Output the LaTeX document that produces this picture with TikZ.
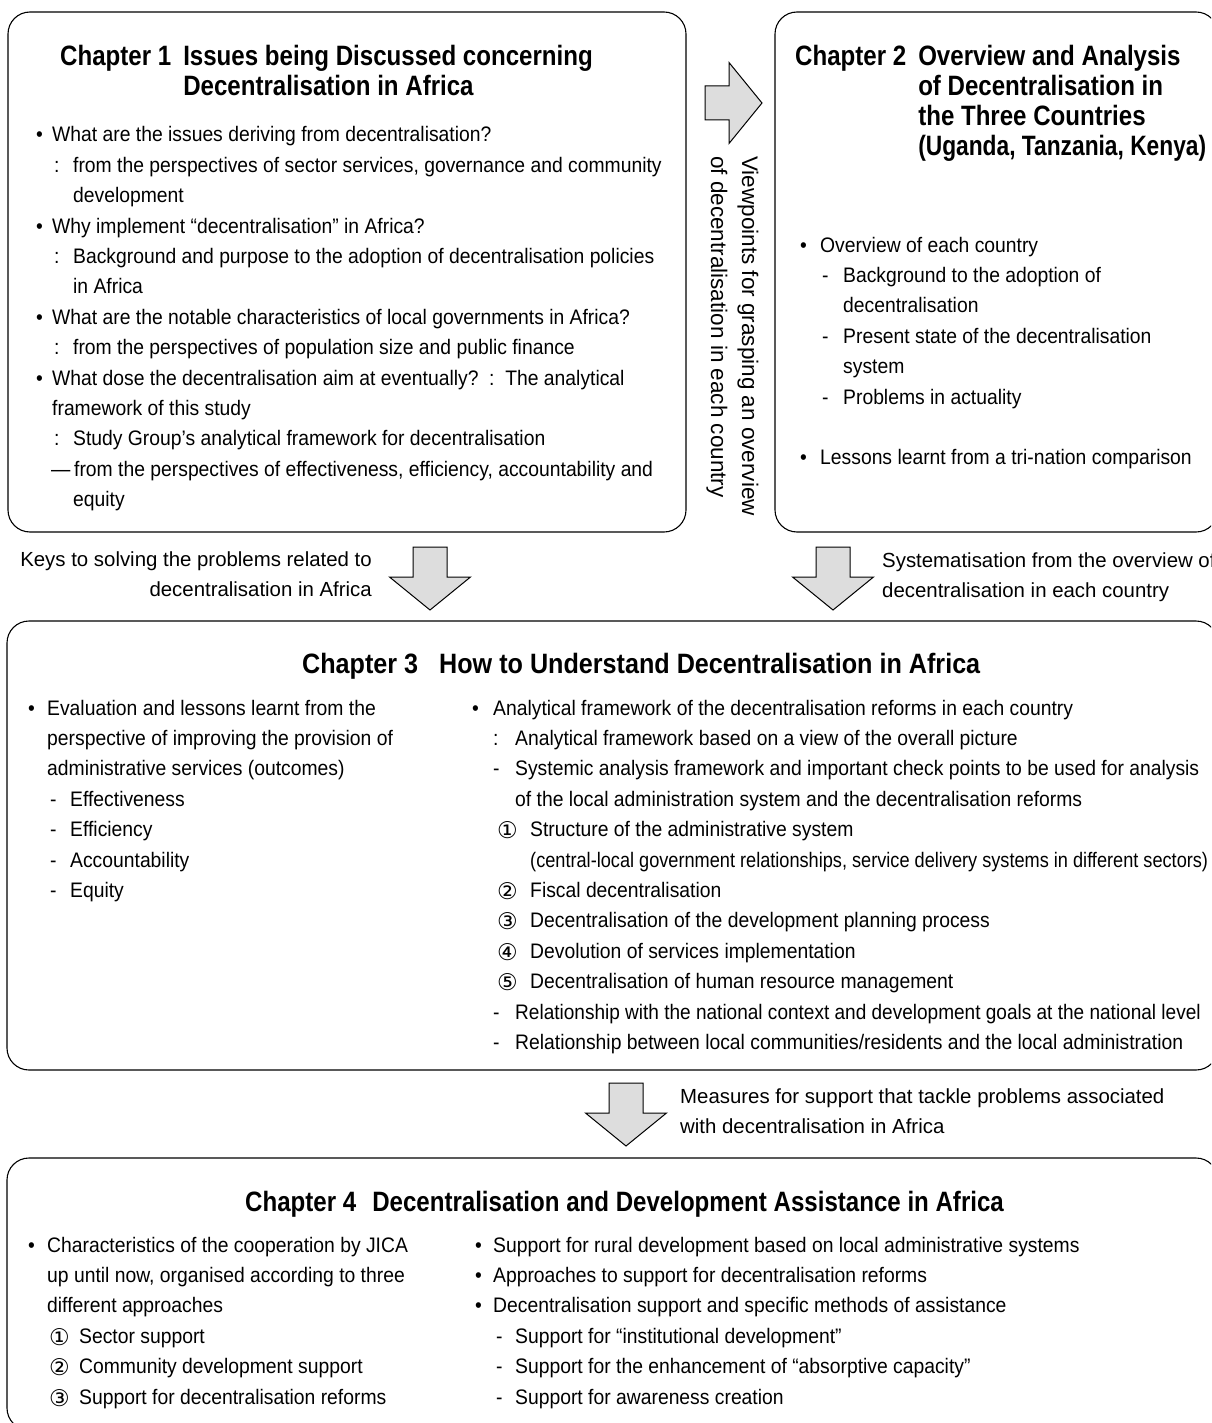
\documentclass[tikz,border=0pt]{standalone}
\usepackage{graphicx}
\usepackage{fontspec}
\setmainfont{Liberation Sans}[FakeStretch=0.92]
\newfontfamily\headfont{Liberation Sans}[FakeStretch=0.86]
\newfontfamily\labelfont{Liberation Sans}
\newfontfamily\circfont{DejaVu Sans}
\usetikzlibrary{positioning}

% list helpers
\newcommand\bu[1]{\makebox[#1][l]{\textbullet}}
\newcommand\lead[3]{\hspace*{#1}\makebox[#2][l]{#3}}
\newcommand\cnum[1]{\raisebox{-2pt}{\circfont\fontsize{23}{23}\selectfont #1}}

\begin{document}
\begin{tikzpicture}[
    x=1pt, y=-1pt,
    chbox/.style={draw, rounded corners=22pt, line width=1.1pt},
    body/.style={inner sep=0pt, anchor=base west, font=\fontsize{21}{30.4}\selectfont},
    side/.style={inner sep=0pt, anchor=base west, font=\labelfont\fontsize{20.4}{30.5}\selectfont},
    head/.style={inner sep=0pt, anchor=base west, font=\headfont\fontsize{28}{30}\selectfont\bfseries},
    fatarrow/.style={draw, line width=1pt, fill=gray!27, line join=miter},
    pics/bigarrow/.style={code={
        \draw[fatarrow] (-17,0) -- (17,0) -- (17,#1) -- (40.5,#1) -- (0,#1+33) -- (-40.5,#1) -- (-17,#1) -- cycle;}},
    pics/bigarrow/.default=30
]
\useasboundingbox (0,0) rectangle (1211,1423);
\clip (0,0) rectangle (1211,1423);

% chapter boxes
\node[chbox, minimum width=678pt, minimum height=520pt]  (ch1) at (347,272)   {};
\node[chbox, minimum width=443pt, minimum height=520pt]  (ch2) at (996.5,272) {};
\node[chbox, minimum width=1211pt, minimum height=449pt] (ch3) at (612.5,845.5) {};
\node[chbox, minimum width=1211pt, minimum height=272pt] (ch4) at (612.5,1294) {};

% block arrows
\pic[rotate=90] at (705,103) {bigarrow=24};
\pic at (430,547)  {bigarrow};
\pic at (833,547)  {bigarrow};
\pic at (626,1083) {bigarrow};

% titles
\node[head] (t1) at (60,66) {\begin{tabular}[t]{@{}l@{\hspace{12pt}}l@{}}
Chapter 1 & Issues being Discussed concerning\\
          & Decentralisation in Africa
\end{tabular}};
\node[head] (t2) at (795,66) {\begin{tabular}[t]{@{}l@{\hspace{12pt}}l@{}}
Chapter 2 & Overview and Analysis\\
          & of Decentralisation in\\
          & the Three Countries\\
          & \scalebox{0.945}[1]{(Uganda, Tanzania, Kenya)}
\end{tabular}};
\node[head] (t3) at (302,673)  {\scalebox{1.045}[1]{Chapter 3\hspace{20pt}How to Understand Decentralisation in Africa}};
\node[head] (t4) at (245,1211) {Chapter 4\hspace{16pt}Decentralisation and Development Assistance in Africa};

% chapter 1
\node[body] (c1list) at (36,142) {\begin{tabular}[t]{@{}l@{}}
\bu{16pt}What are the issues deriving from decentralisation?\\
\lead{18pt}{19pt}{:}from the perspectives of sector services, governance and community\\
\hspace*{37pt}development\\
\bu{16pt}Why implement “decentralisation” in Africa?\\
\lead{18pt}{19pt}{:}Background and purpose to the adoption of decentralisation policies\\
\hspace*{37pt}in Africa\\
\bu{16pt}What are the notable characteristics of local governments in Africa?\\
\lead{18pt}{19pt}{:}from the perspectives of population size and public finance\\
\bu{16pt}What dose the decentralisation aim at eventually?\ \ :\ \ The analytical\\
\hspace*{16pt}framework of this study\\
\lead{18pt}{19pt}{:}Study Group’s analytical framework for decentralisation\\
\lead{15pt}{23pt}{—}from the perspectives of effectiveness, efficiency, accountability and\\
\hspace*{37pt}equity
\end{tabular}};

% chapter 2
\node[body] (c2list) at (800,252) {\begin{tabular}[t]{@{}l@{}}
\bu{20pt}Overview of each country\\
\lead{22pt}{21pt}{-}Background to the adoption of\\
\hspace*{43pt}decentralisation\\
\lead{22pt}{21pt}{-}Present state of the decentralisation\\
\hspace*{43pt}system\\
\lead{22pt}{21pt}{-}Problems in actuality\\[30.4pt]
\bu{20pt}Lessons learnt from a tri-nation comparison
\end{tabular}};

% viewpoint label
\node[side, font=\labelfont\fontsize{22.5}{31}\selectfont, rotate=-90, anchor=north west] (view) at (764,156) {\begin{tabular}[t]{@{}l@{}}
Viewpoints for grasping an overview\\
of decentralisation in each country
\end{tabular}};

% labels of the down arrows
\node[side, anchor=base east] (keys) at (372,566) {\begin{tabular}[t]{@{}r@{}}
Keys to solving the problems related to\\
decentralisation in Africa
\end{tabular}};
\node[side] (syst) at (882,567) {\begin{tabular}[t]{@{}l@{}}
Systematisation from the overview of\\
decentralisation in each country
\end{tabular}};
\node[side] (meas) at (680,1103) {\begin{tabular}[t]{@{}l@{}}
Measures for support that tackle problems associated\\
with decentralisation in Africa
\end{tabular}};

% chapter 3
\node[body] (c3left) at (28,715) {\begin{tabular}[t]{@{}l@{}}
\bu{19pt}Evaluation and lessons learnt from the\\
\hspace*{19pt}perspective of improving the provision of\\
\hspace*{19pt}administrative services (outcomes)\\
\lead{22pt}{20pt}{-}Effectiveness\\
\lead{22pt}{20pt}{-}Efficiency\\
\lead{22pt}{20pt}{-}Accountability\\
\lead{22pt}{20pt}{-}Equity
\end{tabular}};
\node[body] (c3right) at (472,715) {\begin{tabular}[t]{@{}l@{}}
\bu{21pt}Analytical framework of the decentralisation reforms in each country\\
\lead{21pt}{22pt}{:}Analytical framework based on a view of the overall picture\\
\lead{21pt}{22pt}{-}Systemic analysis framework and important check points to be used for analysis\\
\hspace*{43pt}of the local administration system and the decentralisation reforms\\
\lead{25pt}{33pt}{\cnum{①}}Structure of the administrative system\\
\hspace*{58pt}\scalebox{0.94}[1]{(central-local government relationships, service delivery systems in different sectors)}\\
\lead{25pt}{33pt}{\cnum{②}}Fiscal decentralisation\\
\lead{25pt}{33pt}{\cnum{③}}Decentralisation of the development planning process\\
\lead{25pt}{33pt}{\cnum{④}}Devolution of services implementation\\
\lead{25pt}{33pt}{\cnum{⑤}}Decentralisation of human resource management\\
\lead{21pt}{22pt}{-}\scalebox{0.985}[1]{Relationship with the national context and development goals at the national level}\\
\lead{21pt}{22pt}{-}Relationship between local communities/residents and the local administration
\end{tabular}};

% chapter 4
\node[body] (c4left) at (28,1252) {\begin{tabular}[t]{@{}l@{}}
\bu{19pt}Characteristics of the cooperation by JICA\\
\hspace*{19pt}up until now, organised according to three\\
\hspace*{19pt}different approaches\\
\lead{21pt}{30pt}{\cnum{①}}Sector support\\
\lead{21pt}{30pt}{\cnum{②}}Community development support\\
\lead{21pt}{30pt}{\cnum{③}}Support for decentralisation reforms
\end{tabular}};
\node[body] (c4right) at (475,1252) {\begin{tabular}[t]{@{}l@{}}
\bu{18pt}Support for rural development based on local administrative systems\\
\bu{18pt}Approaches to support for decentralisation reforms\\
\bu{18pt}Decentralisation support and specific methods of assistance\\
\lead{21pt}{19pt}{-}Support for “institutional development”\\
\lead{21pt}{19pt}{-}Support for the enhancement of “absorptive capacity”\\
\lead{21pt}{19pt}{-}Support for awareness creation
\end{tabular}};
\end{tikzpicture}
\end{document}
